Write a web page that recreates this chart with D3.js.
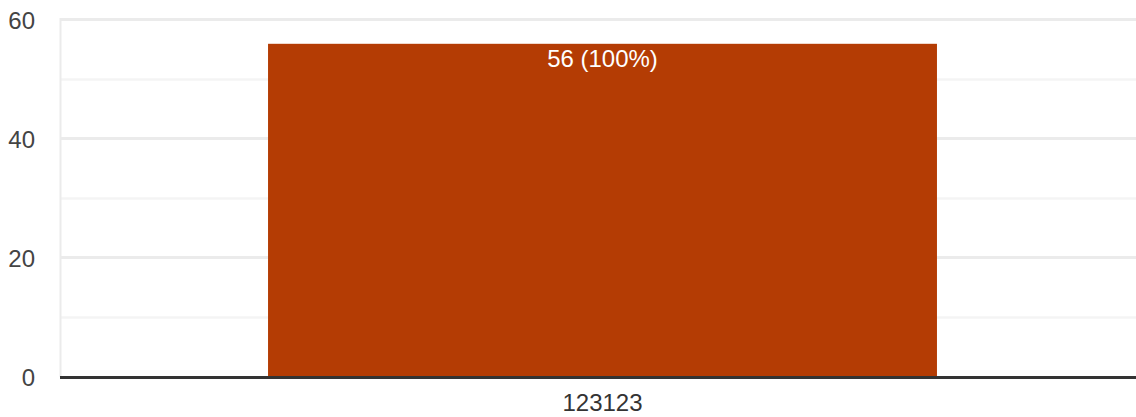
<!DOCTYPE html>
<html>
<head>
<meta charset="utf-8">
<script src="https://cdn.jsdelivr.net/npm/d3@7/dist/d3.min.js"></script>
<style>
  html, body { margin: 0; padding: 0; background: #fff; }
  svg { display: block; font-family: "Liberation Sans", Arial, sans-serif; }
</style>
</head>
<body>
<svg id="chart" width="1136" height="417"></svg>
<script>
const categories = ["123123"];
const values = [56];
const barLabels = ["56 (100%)"];
const majorTicks = [0, 20, 40, 60];
const minorTicks = [10, 30, 50];

(function () {
const svg = d3.select("#chart");
const mLeft = 60, mRight = 1145, mTop = 20, mBottom = 377;

const y = d3.scaleLinear().domain([0, 60]).range([mBottom, mTop]);
const x = d3.scaleBand().domain(categories).range([mLeft, mRight]).paddingInner(0).paddingOuter(0.311);

// minor gridlines
svg.append("g").selectAll("line").data(minorTicks).join("line")
  .attr("x1", mLeft).attr("x2", 1136)
  .attr("y1", d => y(d)).attr("y2", d => y(d))
  .attr("stroke", "#f4f4f4").attr("stroke-width", 2.5);

// major gridlines
svg.append("g").selectAll("line").data(majorTicks.filter(d => d !== 0)).join("line")
  .attr("x1", mLeft).attr("x2", 1136)
  .attr("y1", d => y(d) - 0.5).attr("y2", d => y(d) - 0.5)
  .attr("stroke", "#ebebeb").attr("stroke-width", 3);

// left vertical line
svg.append("line")
  .attr("x1", mLeft + 0.5).attr("x2", mLeft + 0.5)
  .attr("y1", y(60) - 2).attr("y2", mBottom)
  .attr("stroke", "#ebebeb").attr("stroke-width", 2);

// bars
svg.append("g").selectAll("rect").data(values).join("rect")
  .attr("x", (d, i) => x(categories[i]))
  .attr("width", x.bandwidth())
  .attr("y", d => y(d))
  .attr("height", d => mBottom - y(d))
  .attr("fill", "#b43c04");

// bar labels
svg.append("g").selectAll("text").data(values).join("text")
  .attr("x", (d, i) => x(categories[i]) + x.bandwidth() / 2)
  .attr("y", d => y(d) + 23.5)
  .attr("text-anchor", "middle")
  .attr("fill", "#ffffff")
  .attr("font-size", "24px")
  .text((d, i) => barLabels[i]);

// baseline
svg.append("line")
  .attr("x1", mLeft).attr("x2", 1136)
  .attr("y1", y(0) + 0.5).attr("y2", y(0) + 0.5)
  .attr("stroke", "#333333").attr("stroke-width", 3);

// y tick labels
const yAxis = d3.axisLeft(y).tickValues(majorTicks).tickSize(0).tickPadding(0);
const gy = svg.append("g").attr("transform", "translate(35,0)").call(yAxis);
gy.select(".domain").remove();
gy.selectAll("text")
  .attr("font-size", "24px")
  .attr("fill", "#444444")
  .attr("font-family", "\"Liberation Sans\", Arial, sans-serif")
  .attr("dy", "0.35em");

// x tick labels
const xAxis = d3.axisBottom(x).tickSize(0).tickPadding(0);
const gx = svg.append("g").attr("transform", "translate(0,394)").call(xAxis);
gx.select(".domain").remove();
gx.selectAll("text")
  .attr("font-size", "24px")
  .attr("fill", "#333333")
  .attr("font-family", "\"Liberation Sans\", Arial, sans-serif")
  .attr("dy", "0.71em");
})();
</script>
</body>
</html>
